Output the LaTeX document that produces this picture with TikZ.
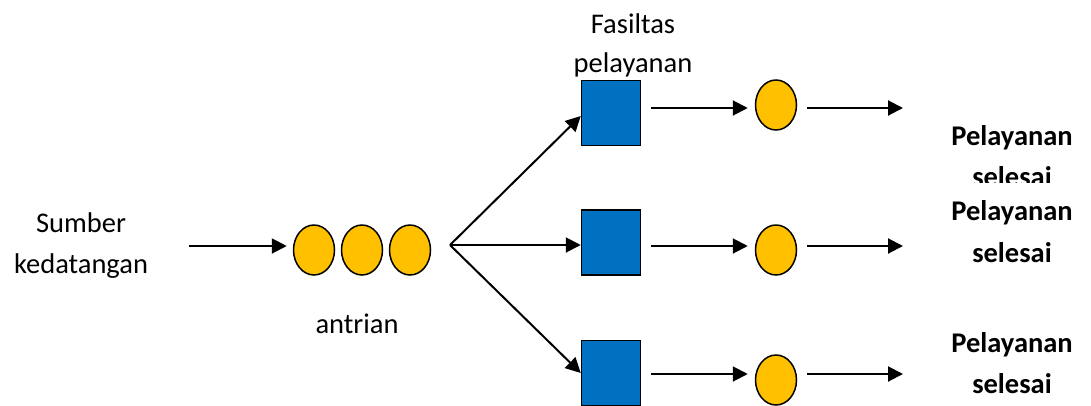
\documentclass[tikz,border=0pt]{standalone}
\usepackage{fontspec}
\setmainfont{Carlito}
\usetikzlibrary{arrows.meta,calc,shapes.geometric}
\definecolor{qyellow}{HTML}{FFC000}
\definecolor{qblue}{HTML}{0070C0}
\begin{document}
\begin{tikzpicture}[x=1pt,y=-1pt,
  lbl/.style={anchor=base,inner sep=0pt,font=\fontsize{28.5}{40}\selectfont},
  blbl/.style={lbl,font=\fontsize{28.5}{40}\selectfont\bfseries},
  cust/.style={ellipse,draw=black,line width=1.5pt,fill=qyellow,minimum width=41pt,minimum height=50pt,inner sep=0pt},
  server/.style={rectangle,draw=black,line width=1.5pt,fill=qblue,minimum width=59pt,minimum height=65pt,inner sep=0pt},
  arr/.style={line width=2pt,-{Triangle[length=15pt,width=15pt]}}
]
\useasboundingbox (0,0) rectangle (1091,405);
% texts
\node[lbl] (src1) at (81,232) {Sumber};
\node[lbl] (src2) at (81,273) {kedatangan};
\node[lbl] (ant) at (357,333) {antrian};
\node[lbl] (fas1) at (633,33) {Fasiltas};
\node[lbl] (fas2) at (633,72) {pelayanan};
% queue
\node[cust] (q1) at (314,250) {};
\node[cust] (q2) at (362,250) {};
\node[cust] (q3) at (410,250) {};
% servers
\node[server] (sq1) at (611,113) {};
\node[server] (sq2) at (611,242.5) {};
\node[server] (sq3) at (611,373) {};
% served customers
\node[cust] (c1) at (776,105) {};
\node[cust] (c2) at (776,250) {};
\node[cust] (c3) at (776,380) {};
% rows
\coordinate (r1) at (0,108);
\coordinate (r2) at (0,246);
\coordinate (r3) at (0,374);
\coordinate (srcpt) at (189,246);
\coordinate (fork) at (450,245);
\coordinate (e1) at (903,108);
\coordinate (e2) at (903,246);
\coordinate (e3) at (903,374);
% connectors
\draw[arr,shorten >=6pt] (srcpt) -- (q1.west |- srcpt);
\draw[arr] (fork) -- ([yshift=-3pt]sq1.west);
\draw[arr] (fork) -- (sq2.west |- fork);
\draw[arr] (fork) -- (sq3.west);
\foreach \i in {1,2,3}{
  \draw[arr,shorten <=10pt,shorten >=7pt] (sq\i.east |- r\i) -- (c\i.west |- r\i);
  \draw[arr,shorten <=10pt] (c\i.east |- r\i) -- (e\i);
}
% result labels
\begin{scope}
\clip (880,100) rectangle (1091,182);
\node[blbl] (p1a) at (1012,145) {Pelayanan};
\node[blbl] (p1b) at (1012,186) {selesai};
\end{scope}
\node[blbl] (p2a) at (1012,220) {Pelayanan};
\node[blbl] (p2b) at (1012,262) {selesai};
\node[blbl] (p3a) at (1012,352) {Pelayanan};
\node[blbl] (p3b) at (1012,393) {selesai};
\end{tikzpicture}
\end{document}
